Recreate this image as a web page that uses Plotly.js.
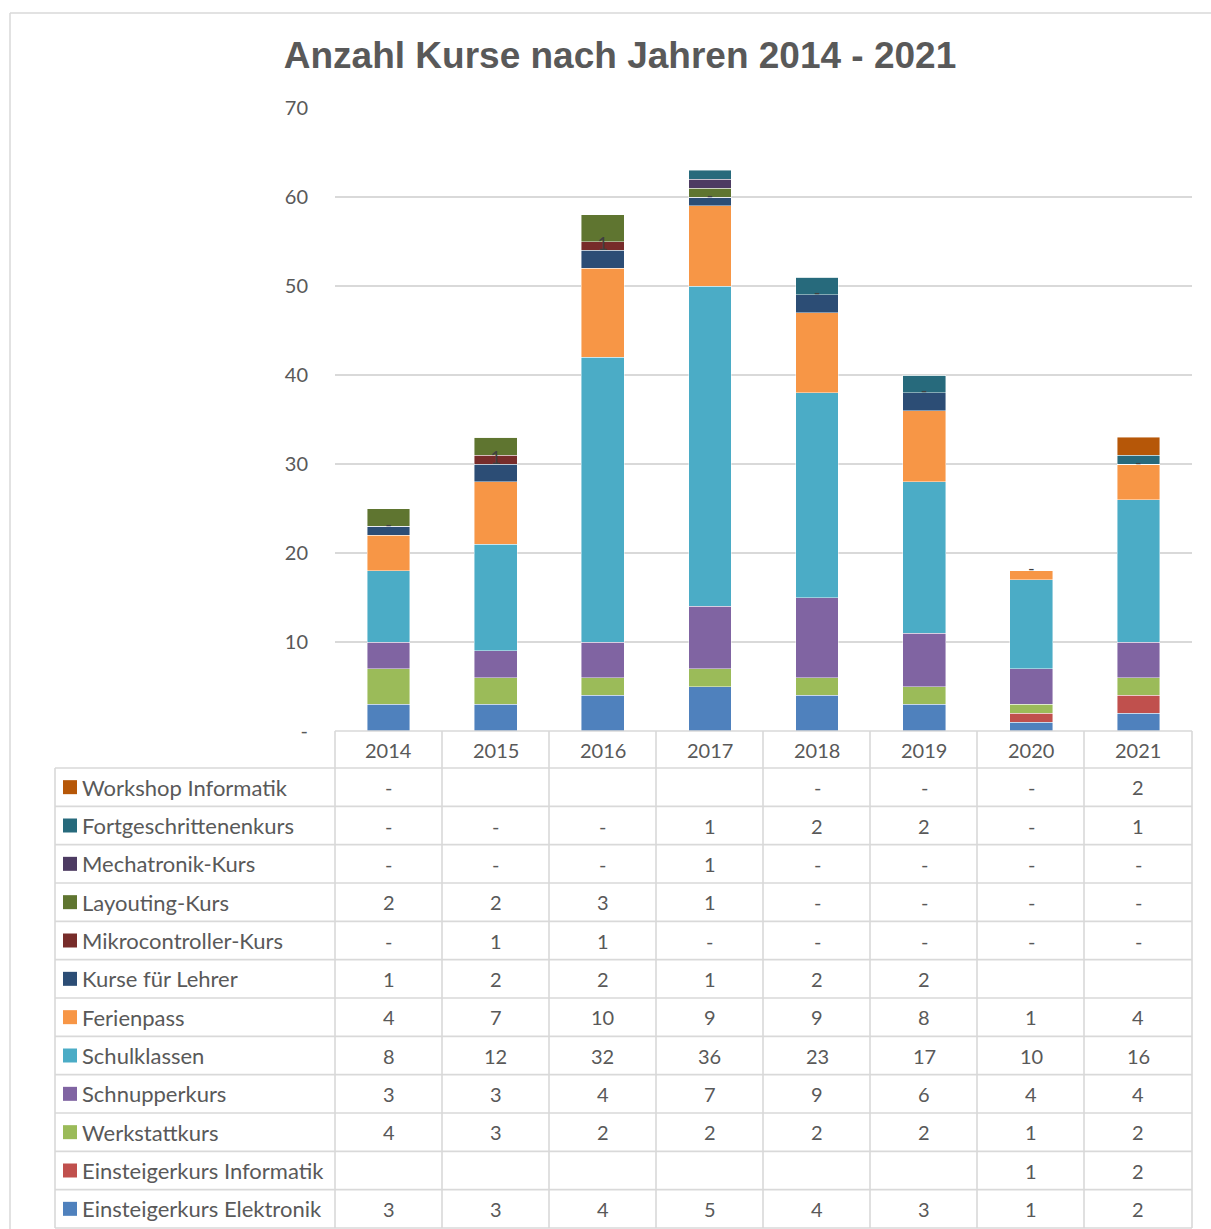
<!DOCTYPE html>
<html>
<head>
<meta charset="utf-8">
<script src="https://cdn.plot.ly/plotly-3.0.1.min.js"></script>
<style>
html,body{margin:0;padding:0;background:#fff;}
#chart{width:1211px;height:1229px;}
</style>
</head>
<body>
<div id="chart"></div>
<script>
// ---- data ----
const years = ["2014","2015","2016","2017","2018","2019","2020","2021"];
// stacking order bottom -> top
const seriesNames = [
  "Einsteigerkurs Elektronik",
  "Einsteigerkurs Informatik",
  "Werkstattkurs",
  "Schnupperkurs",
  "Schulklassen",
  "Ferienpass",
  "Kurse für Lehrer",
  "Mikrocontroller-Kurs",
  "Layouting-Kurs",
  "Mechatronik-Kurs",
  "Fortgeschrittenenkurs",
  "Workshop Informatik"
];
const einsteigerElektronik = [3,3,4,5,4,3,1,2];
const einsteigerInformatik = [null,null,null,null,null,null,1,2];
const werkstattkurs       = [4,3,2,2,2,2,1,2];
const schnupperkurs       = [3,3,4,7,9,6,4,4];
const schulklassen        = [8,12,32,36,23,17,10,16];
const ferienpass          = [4,7,10,9,9,8,1,4];
const kurseLehrer         = [1,2,2,1,2,2,null,null];
const mikrocontroller     = [0,1,1,0,0,0,0,0];
const layouting           = [2,2,3,1,0,0,0,0];
const mechatronik         = [0,0,0,1,0,0,0,0];
const fortgeschritten     = [0,0,0,1,2,2,0,1];
const workshopInformatik  = [0,null,null,null,0,0,0,2];
const seriesValues = [einsteigerElektronik, einsteigerInformatik, werkstattkurs, schnupperkurs,
  schulklassen, ferienpass, kurseLehrer, mikrocontroller, layouting, mechatronik,
  fortgeschritten, workshopInformatik];
const yTickVals = [0,10,20,30,40,50,60,70];
const yTickText = ["-","10","20","30","40","50","60","70"];

// ---- styles ----
const colors = ["#4f81bd","#c0504d","#9bbb59","#8064a2","#4bacc6","#f79646",
  "#2c4d75","#772c2a","#5f7530","#4d3b62","#276a7c","#b65708"];
const W = 1211, H = 1229;
const L = 335, R = 1192, T = 108, B = 731;
const xp = px => (px - L) / (R - L);
const yp = py => (B - py) / (B - T);
const gridC = "#d9d9d9";
const textC = "#595959";
const font = "Lato, 'Open Sans', sans-serif";

const traces = seriesNames.map((n, i) => ({
  type: "bar", name: n, x: years, y: seriesValues[i],
  marker: {color: colors[i], line: {color: "rgba(255,255,255,0.55)", width: 0.8}},
  hoverinfo: "x+y+name", showlegend: false
}));

// data labels for the Mikrocontroller series (placed via cumulative data)
const mIdx = seriesNames.indexOf("Mikrocontroller-Kurs");
const labY = years.map((_, j) => {
  let s = 0;
  for (let k = 0; k < mIdx; k++) s += (seriesValues[k][j] || 0);
  return s + (mikrocontroller[j] || 0) / 2;
});
traces.push({
  type: "scatter", mode: "text", x: years, y: labY,
  text: mikrocontroller.map(v => v === 0 ? "-" : String(v)),
  textfont: {family: font, size: 18, color: "#404040"},
  hoverinfo: "skip", showlegend: false, cliponaxis: false
});

const shapes = [];
const annotations = [];
const line = (x0,y0,x1,y1,w) => shapes.push({type:"line", xref:"paper", yref:"paper",
  x0:xp(x0), y0:yp(y0), x1:xp(x1), y1:yp(y1), line:{color:gridC, width:w||1.6}, layer:"above"});

// outer chart border
line(10,13,1211,13,1.5);
line(10,13,10,1229,1.5);

// table
const colEdges = [335,442,549,656,763,870,977,1084,1192];
const headTop = 731, rowTop = 768, rowBot = 1228;
const nRows = seriesNames.length;
const rowH = (rowBot - rowTop) / nRows;
line(335, headTop, 1192, headTop);
for (let r = 0; r <= nRows; r++) line(55, rowTop + r*rowH, 1192, rowTop + r*rowH);
colEdges.forEach(cx => line(cx, headTop, cx, rowBot));
line(55, rowTop, 55, rowBot);

// header (years) - positioned on the category axis by index
years.forEach((yr, j) => annotations.push({xref:"x", yref:"paper", x:j, y:yp((headTop+rowTop)/2),
  text:yr, showarrow:false, xanchor:"center", yanchor:"middle",
  font:{family:font, size:20, color:textC}}));

// rows: top row = last series
for (let r = 0; r < nRows; r++) {
  const si = nRows - 1 - r;
  const cy = rowTop + r*rowH + rowH/2;
  shapes.push({type:"rect", xref:"paper", yref:"paper", x0:xp(63), x1:xp(77),
    y0:yp(cy-7), y1:yp(cy+7), fillcolor:colors[si], line:{width:0}, layer:"above"});
  annotations.push({xref:"paper", yref:"paper", x:xp(80), y:yp(cy), text:seriesNames[si],
    showarrow:false, xanchor:"left", yanchor:"middle", font:{family:font, size:22, color:textC}});
  seriesValues[si].forEach((v, j) => {
    if (v === null) return;
    annotations.push({xref:"x", yref:"paper", x:j, y:yp(cy),
      text: v === 0 ? "-" : String(v), showarrow:false, xanchor:"center", yanchor:"middle",
      font:{family:font, size:20, color:textC}});
  });
}

const layout = {
  width: W, height: H,
  margin: {l: L, r: W - R, t: T, b: H - B, pad: 0},
  paper_bgcolor: "#ffffff", plot_bgcolor: "#ffffff",
  barmode: "stack", bargap: 0.6,
  title: {text: "Anzahl Kurse nach Jahren 2014 - 2021", xref: "container", yref: "container",
    x: 0.512, xanchor: "center", y: 1 - 55/H, yanchor: "middle",
    font: {family: "'Liberation Sans', Arial, sans-serif", size: 37, color: textC, weight: "bold"}},
  xaxis: {type: "category", categoryorder: "array", categoryarray: years,
    range: [-0.5, years.length - 0.5], autorange: false,
    showticklabels: false, showgrid: false, zeroline: false,
    showline: false, ticks: "", fixedrange: true},
  yaxis: {range: [0, 70], autorange: false, tickvals: yTickVals, ticktext: yTickText, showgrid: true,
    gridcolor: gridC, gridwidth: 1.6, zeroline: false, showline: false, ticks: "",
    ticklabelstandoff: 26, tickfont: {family: font, size: 20, color: textC}, fixedrange: true},
  shapes: shapes, annotations: annotations,
  showlegend: false
};

Plotly.newPlot("chart", traces, layout, {displayModeBar: false, staticPlot: true});
</script>
</body>
</html>
